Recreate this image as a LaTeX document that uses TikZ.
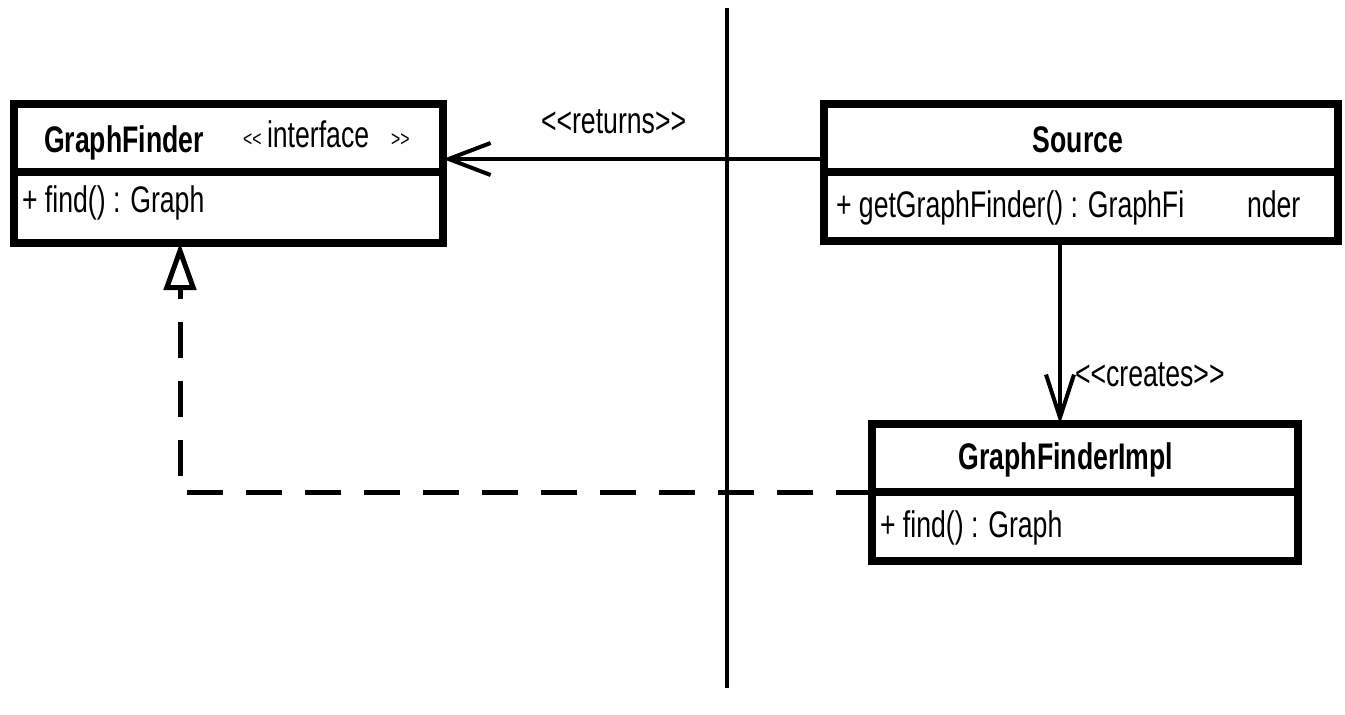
\documentclass[tikz,border=0pt]{standalone}
\usepackage{fontspec}
\newfontfamily\umlfont{Liberation Sans}[FakeStretch=0.72]
\usetikzlibrary{arrows.meta,calc}
\begin{document}
\begin{tikzpicture}[x=0.5pt,y=-0.5pt,
  comp/.style={draw,line width=4pt,rectangle,inner sep=0pt,outer sep=0pt},
  txt/.style={inner sep=0pt,outer sep=0pt,font=\umlfont\fontsize{18.5pt}{22pt}\selectfont},
  small/.style={inner sep=0pt,outer sep=0pt,font=\umlfont\fontsize{11pt}{12pt}\selectfont},
  assoc/.style={line width=2pt,-{Straight Barb[length=21pt,width=16pt,line width=2pt]}},
  creates/.style={line width=2pt,-{Straight Barb[length=21.5pt,width=14pt,line width=2pt]}},
  realize/.style={line width=2.5pt,dash pattern=on 18pt off 11.5pt,-{Triangle[open,length=23.5pt,width=16pt,line width=2.5pt]}},
  divider/.style={line width=2pt}]
\useasboundingbox (0,0) rectangle (1345,714);
% divider
\coordinate (dtop) at (727,8);
\coordinate (dbot) at (727,688);
\draw[divider] (dtop) -- (dbot);
% GraphFinder
\node[comp,minimum width=214.5pt,minimum height=34pt] (gfT) at (228.5,138) {};
\node[comp,minimum width=214.5pt,minimum height=35.5pt] (gfB) at (228.5,207.5) {};
% Source
\node[comp,minimum width=257pt,minimum height=34pt] (srcT) at (1081,138) {};
\node[comp,minimum width=257pt,minimum height=34.5pt] (srcB) at (1081,206.5) {};
% GraphFinderImpl
\node[comp,minimum width=213pt,minimum height=34pt] (implT) at (1085,458) {};
\node[comp,minimum width=213pt,minimum height=34.5pt] (implB) at (1085,526.5) {};
% texts
\node[txt,anchor=base west] (gfName) at (44,152) {\bfseries GraphFinder};
\node[small,anchor=base west] (gfSt1) at (243,146) {<<};
\node[txt,anchor=base west] (gfSt2) at (267,147) {interface};
\node[small,anchor=base west] (gfSt3) at (391,146) {>>};
\node[txt,anchor=base west] (gfOp) at (22,212) {+ find() : Graph};
\node[txt,anchor=base] (srcName) at (1078,152) {\bfseries Source};
\node[txt,anchor=base west] (srcOp) at (836,217) {+ getGraphFinder() : GraphFi};
\node[txt,anchor=base west] (srcOp2) at (1247,217) {nder};
\node[txt,anchor=base] (implName) at (1066,469) {\bfseries GraphFinderImpl};
\node[txt,anchor=base west] (implOp) at (880,537) {+ find() : Graph};
\node[txt,anchor=base west] (lblRet) at (541,133) {<<returns>>};
\node[txt,anchor=base west] (lblCre) at (1075,386) {<<creates>>};
% connectors
\draw[assoc] ([yshift=-10.5pt]srcT.west) -- ([yshift=-10.5pt]gfT.east);
\draw[creates] ([xshift=-10.5pt]srcB.south) -- ([xshift=-12.5pt]implT.north);
\draw[realize] (implT.south west) -| ([xshift=-24.25pt]gfB.south);
\end{tikzpicture}
\end{document}
